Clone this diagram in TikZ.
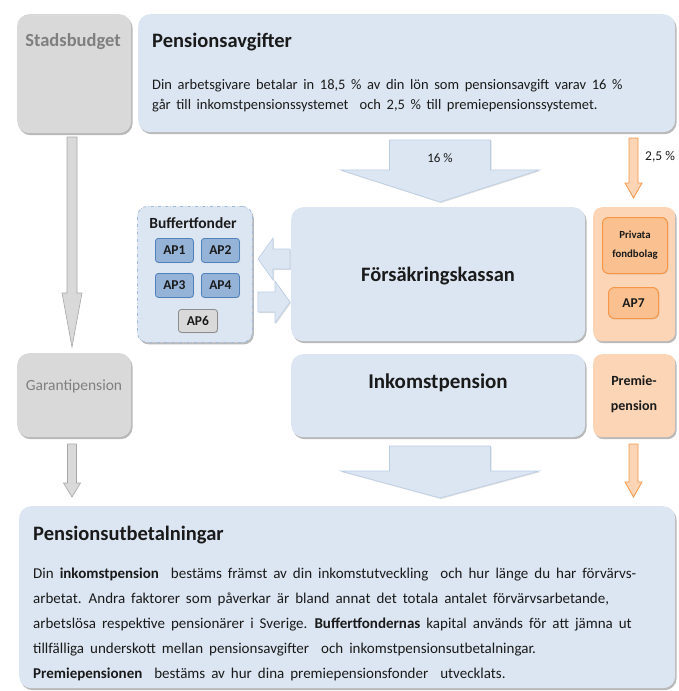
\documentclass[tikz,border=0pt]{standalone}
\usepackage{fontspec}
\setmainfont{Carlito}
\usetikzlibrary{shadows,positioning}

\definecolor{boxblue}{HTML}{DCE6F2}
\definecolor{boxgray}{HTML}{D9D9D9}
\definecolor{boxorange}{HTML}{FBD5B5}
\definecolor{aporange}{HTML}{FAC090}
\definecolor{lineorange}{HTML}{F79646}
\definecolor{apblue}{HTML}{95B3D7}
\definecolor{lineblue}{HTML}{4F81BD}
\definecolor{arrowblue}{HTML}{B9CDE5}
\definecolor{textgray}{HTML}{7F7F7F}
\definecolor{textdark}{HTML}{1A1A1A}

\newcommand{\widewords}[1]{\spaceskip=#1\relax}

\tikzset{
  panel/.style={fill=boxblue, rounded corners=12pt, inner sep=0pt, anchor=north west,
    drop shadow={shadow xshift=1.4pt, shadow yshift=-2pt, fill=black!55}},
  graypanel/.style={panel, fill=boxgray},
  orangepanel/.style={panel, fill=boxorange, rounded corners=9pt},
  apbox/.style={draw=lineblue, fill=apblue, line width=0.8pt, rounded corners=3pt,
    inner sep=0pt, anchor=north west, font=\bfseries\fontsize{13.5}{14}\selectfont, text=textdark,
    drop shadow={shadow xshift=0.8pt, shadow yshift=-0.8pt, fill=black!30}},
  orangebox/.style={apbox, draw=lineorange, fill=aporange, line width=1pt, rounded corners=6pt},
  blockblue/.style={draw=arrowblue, fill=boxblue, line width=0.6pt,
    drop shadow={shadow xshift=1pt, shadow yshift=-1pt, fill=black!25}},
  blockgray/.style={draw=black!35, fill=boxgray, line width=0.6pt},
  blockorange/.style={draw=lineorange, fill=boxorange, line width=0.8pt},
  boxtitle/.style={font=\bfseries\fontsize{20.5}{24}\selectfont, text=textdark, inner sep=0pt},
  bodytext/.style={align=left, inner sep=0pt, anchor=north west, text=textdark}
}

% down pointing block arrow: style, x centre, shaft half width, head half width, top, head base, tip
\newcommand{\blockdown}[7]{%
  \draw[#1] (#2-#3,#5) -- (#2+#3,#5) -- (#2+#3,#6) -- (#2+#4,#6) -- (#2,#7)
    -- (#2-#4,#6) -- (#2-#3,#6) -- cycle;}

\begin{document}
\begin{tikzpicture}[x=1pt, y=-1pt]
  \useasboundingbox (0,0) rectangle (679,691);

  % Stadsbudget and Pensionsavgifter
  \node[graypanel, minimum width=114pt, minimum height=119pt] (stads) at (17,14) {};
  \node[font=\bfseries\fontsize{18.5}{20}\selectfont, text=textgray] (stadslabel) at (73,42) {Stadsbudget};
  \node[panel, minimum width=537pt, minimum height=118pt] (avg) at (138,14) {};
  \node[boxtitle, anchor=west] (avgtitle) at (152,42) {Pensionsavgifter};
  \node[bodytext, font=\fontsize{14.5}{20}\selectfont\widewords{5.6pt}] (avgtext) at (152,79)
    {Din arbetsgivare betalar in 18,5 \% av din lön som pensionsavgift varav 16 \%\\
     går till inkomstpensionssystemet \ och 2,5 \% till premiepensionssystemet.};

  % Flöden från pensionsavgifterna
  \blockdown{blockblue}{440}{50.5}{99.5}{140}{170}{202}
  \node[font=\fontsize{13}{14}\selectfont, text=textdark] (p16) at (440,158) {16 \%};
  \blockdown{blockorange}{633.5}{4.5}{8.5}{138}{183}{198}
  \node[font=\fontsize{13.5}{14}\selectfont, text=textdark, anchor=west, inner sep=0pt] (p25) at (645,157) {2,5 \%};
  \blockdown{blockgray}{72}{5}{10}{137}{293}{347}

  % Buffertfonder
  \node[panel, draw=lineblue!55, dash dot, line width=0.8pt, rounded corners=10pt,
    minimum width=115pt, minimum height=136pt] (buffert) at (137,206) {};
  \node[font=\bfseries\fontsize{15.5}{16}\selectfont, text=textdark] (buffertlabel) at (193,223) {Buffertfonder};
  \node[apbox, minimum width=38pt, minimum height=24pt] (ap1) at (155,238) {AP1};
  \node[apbox, minimum width=38pt, minimum height=24pt] (ap2) at (201,238) {AP2};
  \node[apbox, minimum width=38pt, minimum height=24pt] (ap3) at (155,273) {AP3};
  \node[apbox, minimum width=38pt, minimum height=24pt] (ap4) at (201,273) {AP4};
  \node[apbox, draw=black!45, fill=boxgray, minimum width=39pt, minimum height=23pt] (ap6) at (178,309) {AP6};

  % Pilar mellan buffertfonderna och Försäkringskassan
  \draw[blockblue] (258,259) -- (273,238) -- (273,249) -- (290,249) -- (290,269)
    -- (273,269) -- (273,280) -- cycle;
  \draw[blockblue] (290,302) -- (275,281) -- (275,292) -- (258,292) -- (258,312)
    -- (275,312) -- (275,323) -- cycle;

  % Försäkringskassan, Inkomstpension, premiepensionen
  \node[panel, minimum width=294pt, minimum height=134pt] (kassa) at (291,207) {};
  \node[boxtitle] (kassalabel) at (438,276) {Försäkringskassan};
  \node[orangepanel, minimum width=82pt, minimum height=134pt] (privat) at (593,207) {};
  \node[orangebox, minimum width=65pt, minimum height=56pt, align=center,
    font=\bfseries\fontsize{10.8}{19}\selectfont] (fondbolag) at (602,217) {Privata\\fondbolag};
  \node[orangebox, minimum width=50pt, minimum height=31pt] (ap7) at (608,287) {AP7};
  \node[graypanel, minimum width=114pt, minimum height=84pt] (garanti) at (17,353) {};
  \node[font=\fontsize{15.5}{17}\selectfont, text=textgray] (garantilabel) at (74,386) {Garantipension};
  \node[panel, minimum width=294pt, minimum height=83pt] (inkomst) at (291,354) {};
  \node[boxtitle, font=\bfseries\fontsize{21}{24}\selectfont] (inkomstlabel) at (438,383) {Inkomstpension};
  \node[orangepanel, minimum width=82pt, minimum height=83pt] (premie) at (593,354) {};
  \node[align=center, font=\bfseries\fontsize{14}{25}\selectfont, text=textdark] (premielabel) at (634,394) {Premie-\\pension};

  % Flöden till utbetalningarna
  \blockdown{blockgray}{72}{4.5}{8.5}{444}{483}{497}
  \blockdown{blockblue}{440}{50.5}{99.5}{446}{471}{498}
  \blockdown{blockorange}{633.5}{4.5}{8.5}{444}{482}{497}

  % Pensionsutbetalningar
  \node[panel, minimum width=656pt, minimum height=182pt] (utbet) at (19,506) {};
  \node[boxtitle, anchor=west] (utbettitle) at (33,535) {Pensionsutbetalningar};
  \node[bodytext, font=\fontsize{15}{25}\selectfont\widewords{6pt}] (utbettext) at (33,568)
    {Din \textbf{inkomstpension} \ bestäms främst av din inkomstutveckling \ och hur länge du har förvärvs-\\
     arbetat. Andra faktorer som påverkar är bland annat det totala antalet förvärvsarbetande,\\
     arbetslösa respektive pensionärer i Sverige. \textbf{Buffertfondernas} kapital används för att jämna ut\\
     tillfälliga underskott mellan pensionsavgifter \ och inkomstpensionsutbetalningar.\\
     \textbf{Premiepensionen} \ bestäms av hur dina premiepensionsfonder \ utvecklats.};
\end{tikzpicture}
\end{document}
